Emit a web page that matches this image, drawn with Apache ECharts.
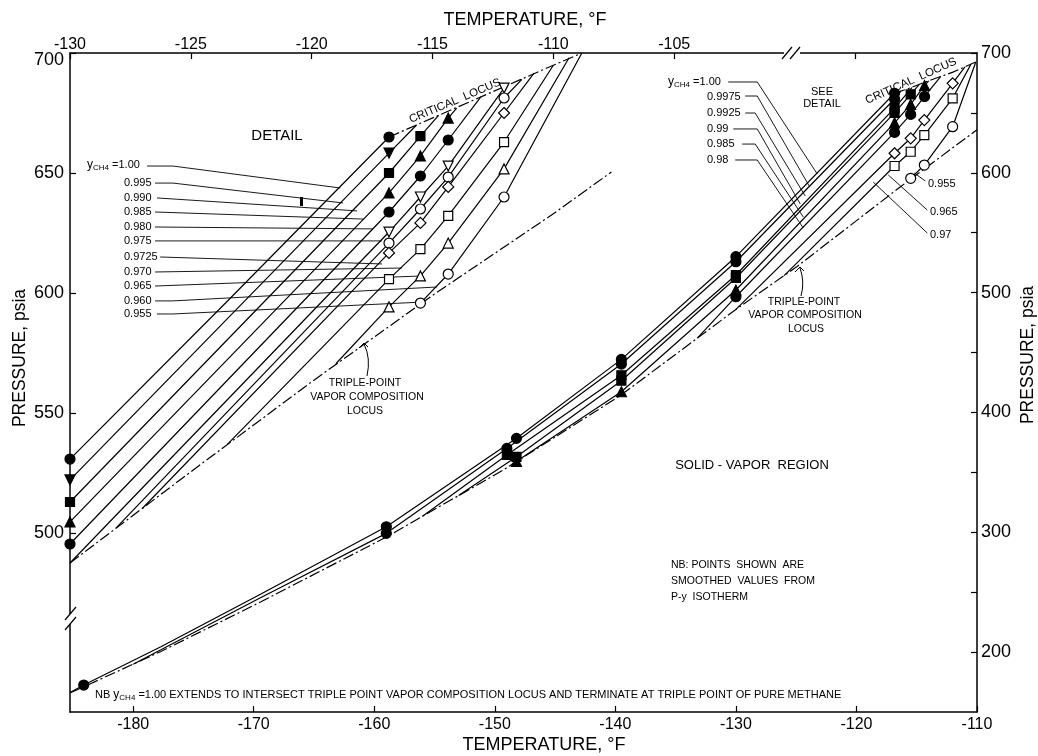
<!DOCTYPE html>
<html><head><meta charset="utf-8">
<script src="https://cdn.jsdelivr.net/npm/echarts@6.0.0/dist/echarts.min.js"></script>
<style>html,body{margin:0;padding:0;background:#fff}#c{width:1038px;height:756px}</style>
</head><body><div id="c"></div>
<script>
// ---------- axes ----------
const TOP_TICKS = [-130,-125,-120,-115,-110,-105,-97.5];
const TOP_LABELS = [-130,-125,-120,-115,-110,-105];
const LEFT_TICKS = [500,550,600,650,700];
const BOTTOM_TICKS = [-180,-170,-160,-150,-140,-130,-120,-110];
const RIGHT_TICKS = [200,250,300,350,400,450,500,550,600,650,700];
const RIGHT_LABELS = [200,300,400,500,600,700];

// ---------- DETAIL (top °F axis, left psia axis) ----------
const D_TRIPLE = [[-130,487.5],[-125,525.5],[-120,563],[-115,599],[-110,633],[-107.6,650.4]];
const D_CRIT = [[-116.8,665],[-114.5,675.1],[-112,686.1],[-110,694.9],[-108.82,700]];
const D_LINE_100 = [[-130,530.8],[-123.4,597.5],[-116.8,665]];
const D_PTS_100 = [[-130,530.8],[-116.8,665]];
const D_LINE_0995 = [[-130,522.1],[-116.8,658.3],[-115.66,670]];
const D_PTS_0995 = [[-130,522.1],[-116.8,658.3]];
const D_LINE_0990 = [[-130,512.9],[-116.8,650],[-115.5,665.4],[-114.75,674]];
const D_PTS_0990 = [[-130,512.9],[-116.8,650],[-115.5,665.4]];
const D_LINE_0985 = [[-130,504.6],[-116.8,641.7],[-115.5,657.1],[-114.35,672.9],[-114.0,677]];
const D_PTS_0985 = [[-130,504.6],[-116.8,641.7],[-115.5,657.1],[-114.35,672.9]];
const D_LINE_0980 = [[-130,495.4],[-116.8,633.75],[-115.5,648.75],[-114.35,663.75],[-113.0,681.7]];
const D_PTS_0980 = [[-130,495.4],[-116.8,633.75],[-115.5,648.75],[-114.35,663.75]];
const D_LINE_0975 = [[-130,487.5],[-116.8,625.4],[-115.5,640],[-114.35,652.9],[-112.04,685.4]];
const D_PTS_0975 = [[-116.8,625.4],[-115.5,640],[-114.35,652.9],[-112.04,685.4]];
const D_LINE_09725 = [[-128.1,502],[-116.8,620.8],[-115.5,635],[-114.35,648.3],[-112.04,681.25],[-111.3,689]];
const D_PTS_09725 = [[-116.8,620.8],[-115.5,635],[-114.35,648.3],[-112.04,681.25]];
const D_LINE_0970 = [[-127,510.3],[-116.8,616.7],[-115.5,629.2],[-114.35,644.2],[-112.04,675],[-110.8,691.6]];
const D_PTS_0970 = [[-116.8,616.7],[-115.5,629.2],[-114.35,644.2],[-112.04,675]];
const D_LINE_0965 = [[-123.5,536.8],[-116.8,605.8],[-115.5,618.3],[-114.35,632.1],[-112.04,662.9],[-110.0,694.9]];
const D_PTS_0965 = [[-116.8,605.8],[-115.5,618.3],[-114.35,632.1],[-112.04,662.9]];
const D_LINE_0960 = [[-119,570.5],[-116.8,594.2],[-115.5,607.1],[-114.35,620.8],[-112.04,651.7],[-109.35,698]];
const D_PTS_0960 = [[-116.8,594.2],[-115.5,607.1],[-114.35,620.8],[-112.04,651.7]];
const D_LINE_0955 = [[-115.5,595.8],[-114.35,607.9],[-112.04,640],[-108.82,700]];
const D_PTS_0955 = [[-115.5,595.8],[-114.35,607.9],[-112.04,640]];

const D_LEADERS = [
  [[-126.81,652.9],[-125.74,652.9],[-118.82,643.75]],
  [[-126.48,645.8],[-125.74,645.8],[-118.70,637.5]],
  [[-126.40,639.6],[-118.12,634.2]],
  [[-126.48,633.75],[-117.87,630.8]],
  [[-126.48,627.5],[-117.46,626.7]],
  [[-126.48,621.7],[-117.09,621.7]],
  [[-126.27,615],[-117.09,612.1]],
  [[-126.48,608.75],[-116.26,610.4]],
  [[-126.48,602.9],[-115.43,607.1]],
  [[-126.48,596.7],[-125.74,596.7],[-114.81,602.5]],
  [[-126.4,591.25],[-125.74,591.25],[-115.35,596.25]]
];
const D_LABELS = ['0.995','0.990','0.985','0.980','0.975','0.9725','0.970','0.965','0.960','0.955'];

// ---------- MAIN (bottom °F axis, right psia axis) ----------
const M_TRIPLE = [[-185.2,166],[-177.7,200.5],[-169.4,242],[-159,296],[-149.3,352],[-139.6,414],[-130,486],[-124.9,522],[-116.4,588],[-110,636]];
const M_CRIT = [[-116.84,666.4],[-115.5,671],[-114.37,675.5],[-112,684],[-110.1,692.5]];
const M_LINE_100 = [[-185.2,166.5],[-184.1,172.5],[-177.7,204.4],[-169.4,248.5],[-159,304.6],[-148.2,378.4],[-139.5,444.3],[-130,530],[-116.84,666.4]];
const M_PTS_100 = [[-184.1,172.5],[-159,304.6],[-148.2,378.4],[-139.5,444.3],[-130,530],[-116.84,666.4]];
const M_LINE_09975 = [[-180,189.9],[-169.4,245.5],[-159,299.1],[-149,370],[-139.5,440.4],[-130,525.8],[-116.84,661.6],[-116.3,668.3]];
const M_PTS_09975 = [[-159,299.1],[-149,370],[-139.5,440.4],[-130,525.8],[-116.84,661.6]];
const M_LINE_09925 = [[-156,313.3],[-149,364.5],[-139.5,431],[-130,514.7],[-116.84,654],[-115.4,671.1]];
const M_PTS_09925 = [[-149,364.5],[-139.5,431],[-130,514.7],[-116.84,654]];
const M_LINE_099 = [[-153,330.6],[-148.2,363],[-139.5,426.5],[-130,512.2],[-116.84,650],[-115.5,665.4],[-114.8,673.6]];
const M_PTS_099 = [[-148.2,363],[-139.5,426.5],[-130,512.2],[-116.84,650],[-115.5,665.4]];
const M_LINE_0985 = [[-148.6,356.5],[-139.5,417.3],[-130,502.2],[-116.84,641.7],[-115.5,657.1],[-114.35,672.9],[-114.0,676.8]];
const M_PTS_0985 = [[-148.2,359.2],[-139.5,417.3],[-130,502.2],[-116.84,641.7],[-115.5,657.1],[-114.35,672.9]];
const M_LINE_098 = [[-133.2,462],[-130,496.6],[-116.84,633.75],[-115.5,648.75],[-114.35,663.75],[-113,680.5]];
const M_PTS_098 = [[-130,496.6],[-116.84,633.75],[-115.5,648.75],[-114.35,663.75]];
const M_LINE_097 = [[-130,486],[-116.84,616.3],[-115.5,628.8],[-114.37,644],[-112.02,674.7],[-111,688.5]];
const M_PTS_097 = [[-116.84,616.3],[-115.5,628.8],[-114.37,644],[-112.02,674.7]];
const M_LINE_0965 = [[-126,514.2],[-116.84,605.7],[-115.5,617.6],[-114.37,631.5],[-112.02,662.2],[-110.5,690.7]];
const M_PTS_0965 = [[-116.84,605.7],[-115.5,617.6],[-114.37,631.5],[-112.02,662.2]];
const M_LINE_0955 = [[-115.5,595.4],[-114.37,606.5],[-112.02,638.5],[-110.1,692.5]];
const M_PTS_0955 = [[-115.5,595.4],[-114.37,606.5],[-112.02,638.5]];

const M_LEADERS = [
  [[-130.64,675.8],[-128.23,675.8],[-123.25,599]],
  [[-129.23,664.1],[-128.23,664.1],[-123.92,589]],
  [[-129.23,649.9],[-128.4,649.9],[-124.25,580.6]],
  [[-130.22,636.6],[-128.23,636.6],[-124.66,574]],
  [[-129.48,624],[-128.4,624],[-124.41,563.1]],
  [[-130.06,610.7],[-128.23,610.7],[-124.41,553.9]],
  [[-114.12,568.9],[-117.36,598.2]],
  [[-114.12,549.7],[-118.61,592.3]]
];
const M_ARROWS = [[[-114.29,593.2],[-115.2,599.8]]];
const M_LABELS = ['0.9975','0.9925','0.99','0.985','0.98'];

// ---------- styles ----------
const FONT = 'Liberation Sans';
const SYM = {
  fc:{s:'circle',z:10,f:'#000',r:0}, ftd:{s:'triangle',z:10,f:'#000',r:180},
  fs:{s:'rect',z:9,f:'#000',r:0}, ftu:{s:'triangle',z:10,f:'#000',r:0},
  otd:{s:'triangle',z:10,f:'#fff',r:180}, oc:{s:'circle',z:10,f:'#fff',r:0},
  od:{s:'diamond',z:11,f:'#fff',r:0}, os:{s:'rect',z:9,f:'#fff',r:0},
  otu:{s:'triangle',z:10,f:'#fff',r:0}
};
const DETAIL = [
  [D_LINE_100,D_PTS_100,'fc'],[D_LINE_0995,D_PTS_0995,'ftd'],[D_LINE_0990,D_PTS_0990,'fs'],
  [D_LINE_0985,D_PTS_0985,'ftu'],[D_LINE_0980,D_PTS_0980,'fc'],[D_LINE_0975,D_PTS_0975,'otd'],
  [D_LINE_09725,D_PTS_09725,'oc'],[D_LINE_0970,D_PTS_0970,'od'],[D_LINE_0965,D_PTS_0965,'os'],
  [D_LINE_0960,D_PTS_0960,'otu'],[D_LINE_0955,D_PTS_0955,'oc']
];
const MAIN = [
  [M_LINE_100,M_PTS_100,'fc'],[M_LINE_09975,M_PTS_09975,'fc'],[M_LINE_09925,M_PTS_09925,'fs'],
  [M_LINE_099,M_PTS_099,'fs'],[M_LINE_0985,M_PTS_0985,'ftu'],[M_LINE_098,M_PTS_098,'fc'],
  [M_LINE_097,M_PTS_097,'od'],[M_LINE_0965,M_PTS_0965,'os'],[M_LINE_0955,M_PTS_0955,'oc']
];

const series = [];
function addCurves(list, xi, yi){
  list.forEach(([line, pts, k])=>{
    const m = SYM[k];
    series.push({type:'line', xAxisIndex:xi, yAxisIndex:yi, data:line, showSymbol:false, smooth:false,
      lineStyle:{color:'#000', width:1.2}, silent:true, z:2, animation:false});
    series.push({type:'scatter', xAxisIndex:xi, yAxisIndex:yi, data:pts, symbol:m.s, symbolSize:m.z, symbolRotate:m.r,
      itemStyle:{color:m.f, borderColor:'#000', borderWidth:1.2, opacity:1}, clip:false, silent:true, z:4, animation:false});
  });
}
addCurves(DETAIL, 1, 0);
addCurves(MAIN, 0, 1);
const DASH = [11,3,2,3];
[[D_TRIPLE,1,0],[D_CRIT,1,0],[M_TRIPLE,0,1],[M_CRIT,0,1]].forEach(([d,xi,yi])=>{
  series.push({type:'line', xAxisIndex:xi, yAxisIndex:yi, data:d, showSymbol:false, smooth:false,
    lineStyle:{color:'#000',width:1.2,type:DASH}, silent:true, z:2, animation:false});
});
series.push({type:'lines', coordinateSystem:'cartesian2d', xAxisIndex:1, yAxisIndex:0, polyline:true,
  data:D_LEADERS.map(c=>({coords:c})), symbol:['none','arrow'], symbolSize:7,
  lineStyle:{color:'#000', width:0.9, opacity:1}, silent:true, z:3, animation:false});
series.push({type:'lines', coordinateSystem:'cartesian2d', xAxisIndex:0, yAxisIndex:1, polyline:true,
  data:M_LEADERS.map(c=>({coords:c})), symbol:['none','none'],
  lineStyle:{color:'#000', width:0.9, opacity:1}, silent:true, z:3, animation:false});
series.push({type:'lines', coordinateSystem:'cartesian2d', xAxisIndex:0, yAxisIndex:1, polyline:true,
  data:M_ARROWS.map(c=>({coords:c})), symbol:['none','arrow'], symbolSize:7,
  lineStyle:{color:'#000', width:0.9, opacity:1}, silent:true, z:3, animation:false});

// ---------- text annotations ----------
function txt(t, x, y, size, opts){
  opts = opts || {};
  return {type:'text', x:x, y:y, rotation:opts.rot||0, z:10, silent:true,
    style:{text:t, fill:'#000', font:(size)+'px "'+FONT+'"', fontSize:size, fontFamily:FONT,
      textAlign:opts.align||'left', textVerticalAlign:'middle', align:opts.align||'left', verticalAlign:'middle', rich:opts.rich}};
}
const subRich = (s)=>({a:{fontSize:s+1, fontFamily:FONT, fill:'#000'}, b:{fontSize:s-3, fontFamily:FONT, fill:'#000', padding:[6,0,0,0]}, c:{fontSize:s, fontFamily:FONT, fill:'#000'}});
const graphics = [
  txt('TEMPERATURE, °F', 525, 20, 18, {align:'center'}),
  txt('TEMPERATURE, °F', 544, 745, 18, {align:'center'}),
  txt('PRESSURE, psia', 20, 358, 17.5, {align:'center', rot:Math.PI/2}),
  txt('PRESSURE, psia', 1028, 355, 17.5, {align:'center', rot:Math.PI/2}),
  txt('DETAIL', 277, 136, 15, {align:'center'}),
  txt('CRITICAL  LOCUS', 455, 101, 11.5, {align:'center', rot:0.40}),
  txt('CRITICAL  LOCUS', 911, 81, 11.5, {align:'center', rot:0.42}),
  txt('SEE', 822, 92, 11, {align:'center'}),
  txt('DETAIL', 822, 104, 11, {align:'center'}),
  txt('TRIPLE-POINT', 365, 383, 10.5, {align:'center'}),
  txt('VAPOR COMPOSITION', 367, 397, 10.5, {align:'center'}),
  txt('LOCUS', 365, 411, 10.5, {align:'center'}),
  txt('TRIPLE-POINT', 804, 302, 10.5, {align:'center'}),
  txt('VAPOR COMPOSITION', 805, 315, 10.5, {align:'center'}),
  txt('LOCUS', 806, 329, 10.5, {align:'center'}),
  txt('SOLID - VAPOR  REGION', 752, 465, 13, {align:'center'}),
  txt('NB: POINTS  SHOWN  ARE', 671, 565, 10.5),
  txt('SMOOTHED  VALUES  FROM', 671, 581, 10.5),
  txt('P-y  ISOTHERM', 671, 597, 10.5),
  txt('{c|NB} {a|y}{b|CH4} {c|=1.00 EXTENDS TO INTERSECT TRIPLE POINT VAPOR COMPOSITION LOCUS AND TERMINATE AT TRIPLE POINT OF PURE METHANE}', 95, 695, 11, {rich:subRich(11)}),
  txt('{a|y}{b|CH4} {c|=1.00}', 87, 165, 11, {rich:subRich(11)}),
  txt('{a|y}{b|CH4} {c|=1.00}', 668, 82, 11, {rich:subRich(11)}),
  txt('0.955', 928, 184, 11),
  txt('0.965', 930, 212, 11),
  txt('0.97', 930, 235, 11),
  // break marks
  {type:'rect', shape:{x:784, y:50, width:16, height:6}, style:{fill:'#fff'}, z:20, silent:true},
  {type:'line', shape:{x1:782, y1:59, x2:792, y2:47}, style:{stroke:'#000', lineWidth:1.2}, z:21, silent:true},
  {type:'line', shape:{x1:790, y1:59, x2:800, y2:47}, style:{stroke:'#000', lineWidth:1.2}, z:21, silent:true},
  {type:'rect', shape:{x:66, y:614, width:8, height:10}, style:{fill:'#fff'}, z:20, silent:true},
  {type:'line', shape:{x1:65, y1:620, x2:76, y2:607}, style:{stroke:'#000', lineWidth:1.2}, z:21, silent:true},
  {type:'line', shape:{x1:65, y1:630, x2:76, y2:617}, style:{stroke:'#000', lineWidth:1.2}, z:21, silent:true},
  // triple-point label leaders
  {type:'bezierCurve', shape:{x1:367, y1:376, x2:364, y2:344, cpx1:371, cpy1:358}, style:{stroke:'#000', lineWidth:1, fill:null}, z:10, silent:true},
  {type:'polyline', shape:{points:[[359,348],[364,343],[368,347]]}, style:{stroke:'#000', lineWidth:1, fill:null}, z:10, silent:true},
  {type:'bezierCurve', shape:{x1:801, y1:296, x2:800, y2:268, cpx1:805, cpy1:282}, style:{stroke:'#000', lineWidth:1, fill:null}, z:10, silent:true},
  {type:'polyline', shape:{points:[[795,272],[800,267],[804,271]]}, style:{stroke:'#000', lineWidth:1, fill:null}, z:10, silent:true},
  {type:'rect', shape:{x:300, y:197, width:3, height:9}, style:{fill:'#000'}, z:10, silent:true}
];
const DY = [183,198,212,227,241,257,272,286,301,314];
D_LABELS.forEach((t,i)=>graphics.push(txt(t, 124, DY[i], 11)));
const MY = [97,113,129,144,160];
M_LABELS.forEach((t,i)=>graphics.push(txt(t, 707, MY[i], 11)));

const axLine = {show:true, lineStyle:{color:'#000', width:1.5}};
const option = {
  backgroundColor:'#fff',
  animation:false,
  grid:{left:70, right:61, top:53, bottom:44, containLabel:false},
  xAxis:[
    {type:'value', position:'bottom', min:-185.24, max:-110, axisLine:axLine,
     axisTick:{show:true, inside:true, length:6, customValues:BOTTOM_TICKS, lineStyle:{color:'#000',width:1.2}},
     axisLabel:{customValues:BOTTOM_TICKS, color:'#000', fontSize:16, fontFamily:FONT, margin:5},
     splitLine:{show:false}},
    {type:'value', position:'top', min:-130, max:-92.47, axisLine:axLine,
     axisTick:{show:true, inside:true, length:6, customValues:TOP_TICKS, lineStyle:{color:'#000',width:1.2}},
     axisLabel:{customValues:TOP_LABELS, color:'#000', fontSize:16, fontFamily:FONT, margin:0},
     splitLine:{show:false}}
  ],
  yAxis:[
    {type:'value', position:'left', min:425.4, max:700, axisLine:axLine,
     axisTick:{show:true, inside:true, length:6, customValues:LEFT_TICKS, lineStyle:{color:'#000',width:1.2}},
     axisLabel:{customValues:LEFT_TICKS, color:'#000', fontSize:18, fontFamily:FONT, margin:6,
       formatter:(v)=> v===700 ? '{d|700}' : String(v), rich:{d:{fontSize:18, fontFamily:FONT, color:'#000', padding:[14,0,0,0]}}},
     splitLine:{show:false}},
    {type:'value', position:'right', min:150, max:700, axisLine:axLine,
     axisTick:{show:true, inside:true, length:6, customValues:RIGHT_TICKS, lineStyle:{color:'#000',width:1.2}},
     axisLabel:{customValues:RIGHT_LABELS, color:'#000', fontSize:18, fontFamily:FONT, margin:4},
     splitLine:{show:false}}
  ],
  series:series,
  graphic:graphics
};
const chart = echarts.init(document.getElementById('c'), null, {renderer:'canvas'});
chart.setOption(option);
</script></body></html>
